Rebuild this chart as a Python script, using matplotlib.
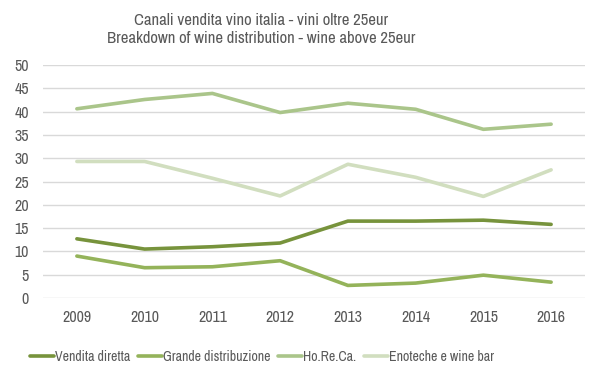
import matplotlib
matplotlib.use('Agg')
import matplotlib.pyplot as plt

plt.rcParams['font.family'] = ['Archivo Narrow', 'DejaVu Sans']

anni = ['2009', '2010', '2011', '2012', '2013', '2014', '2015', '2016']
vendita_diretta = [12.7, 10.5, 11.0, 11.8, 16.5, 16.5, 16.7, 15.8]
grande_distribuzione = [9.0, 6.5, 6.7, 8.0, 2.7, 3.2, 4.9, 3.4]
horeca = [40.6, 42.6, 43.9, 39.8, 41.8, 40.5, 36.2, 37.3]
enoteche = [29.3, 29.3, 25.7, 21.9, 28.7, 25.9, 21.8, 27.5]

serie = [
    ('Vendita diretta', vendita_diretta, '#77933C'),
    ('Grande distribuzione', grande_distribuzione, '#94B35A'),
    ('Ho.Re.Ca.', horeca, '#AAC58A'),
    ('Enoteche e wine bar', enoteche, '#D1DEBF'),
]

testo = '#595959'

fig = plt.figure(figsize=(5.99, 3.78), dpi=100)
ax = fig.add_axes([43 / 599, 80 / 378, 542 / 599, 233 / 378])

x = range(len(anni))
for nome, valori, colore in serie:
    ax.plot(x, valori, color=colore, linewidth=2.6, label=nome, solid_capstyle='round')

ax.set_xlim(-0.5, len(anni) - 0.5)
ax.set_ylim(0, 50)
ax.set_yticks(range(0, 51, 5))
ax.set_xticks(list(x))
ax.set_xticklabels(anni)
ax.grid(axis='y', color='#D9D9D9', linewidth=1)
ax.set_axisbelow(True)
for s in ax.spines.values():
    s.set_visible(False)
ax.tick_params(length=0, colors=testo, labelsize=11.5)
ax.tick_params(axis='y', pad=10)
ax.tick_params(axis='x', pad=9)

fig.text(261 / 599, 0.965, 'Canali vendita vino italia - vini oltre 25eur\nBreakdown of wine distribution - wine above 25eur',
         ha='center', va='top', fontsize=12, color=testo, linespacing=1.2)

fig.legend(loc='center', bbox_to_anchor=(262 / 599, 21 / 378), ncol=4, frameon=False,
           fontsize=10, labelcolor=testo, handlelength=1.7, handletextpad=0.05,
           columnspacing=0.6)

fig.savefig('out.png', dpi=100)
